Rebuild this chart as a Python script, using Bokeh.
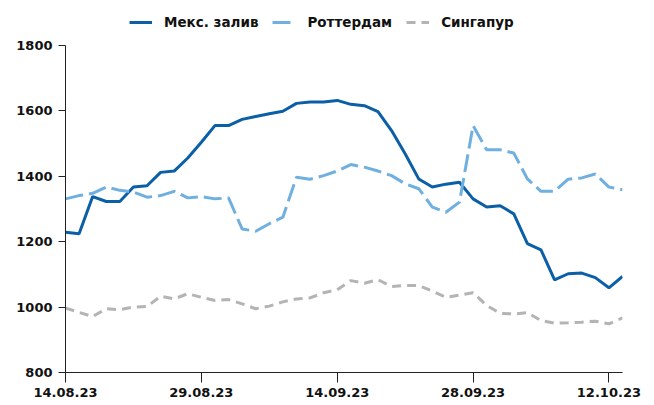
from bokeh.plotting import figure
from bokeh.models import FixedTicker, Range1d, Legend, LegendItem
from bokeh.embed import file_html
from bokeh.resources import INLINE

mex = [1229, 1224, 1338, 1323, 1323, 1367, 1371, 1412, 1416, 1456,
       1504, 1555, 1555, 1574, 1583, 1591, 1599, 1623, 1627, 1627,
       1632, 1620, 1616, 1598, 1540, 1469, 1392, 1367, 1376, 1382,
       1331, 1306, 1310, 1285, 1194, 1175, 1083, 1102, 1104, 1090,
       1059, 1094]
rot = [1331, 1341, 1348, 1367, 1357, 1352, 1336, 1341, 1354, 1334,
       1338, 1331, 1334, 1239, 1232, 1255, 1275, 1397, 1391, 1402,
       1416, 1436, 1428, 1416, 1402, 1377, 1362, 1306, 1290, 1321,
       1555, 1481, 1481, 1471, 1392, 1354, 1354, 1391, 1395, 1407,
       1367, 1359]
sin = [997, 984, 971, 995, 992, 1000, 1002, 1033, 1025, 1041,
       1030, 1020, 1023, 1010, 995, 1003, 1016, 1025, 1028, 1044,
       1053, 1081, 1073, 1084, 1063, 1066, 1066, 1049, 1030, 1037,
       1044, 1005, 981, 979, 983, 959, 951, 952, 954, 957,
       949, 967]
series_names = ["Мекс. залив", "Роттердам", "Сингапур"]
tick_labels = ["14.08.23", "29.08.23", "14.09.23", "28.09.23", "12.10.23"]
tick_idx = [0, 10, 20, 30, 40]
y_ticks = [800, 1000, 1200, 1400, 1600, 1800]

x = list(range(len(mex)))
FONT = "DejaVu Sans"

# frame extends above the 1800 tick so the legend can sit inside it
p = figure(width=654, height=405, output_backend="svg", toolbar_location=None,
           x_range=Range1d(0, len(mex) - 1), y_range=Range1d(800, 1922.3),
           min_border_left=65, min_border_right=32, min_border_top=5,
           min_border_bottom=33)
p.outline_line_color = None
p.grid.visible = False
p.background_fill_color = "white"

r1 = p.line(x, mex, line_color="#0a5fa6", line_width=3)
r2 = p.line(x, rot, line_color="#6fb0e0", line_width=3, line_dash="18 6")
r3 = p.line(x, sin, line_color="#b4b4b4", line_width=3, line_dash="9 6")

for ax in (p.xaxis[0], p.yaxis[0]):
    ax.axis_line_color = "#222222"
    ax.major_tick_line_color = "#222222"
    ax.major_tick_in = 0
    ax.minor_tick_line_color = None
    ax.major_label_text_font = FONT
    ax.major_label_text_font_style = "bold"
    ax.major_label_text_font_size = "13px"
    ax.major_label_text_color = "#111111"

p.xaxis[0].ticker = FixedTicker(ticks=tick_idx)
p.xaxis[0].major_label_overrides = {i: t for i, t in zip(tick_idx, tick_labels)}
p.xaxis[0].major_tick_out = 10
p.xaxis[0].major_label_standoff = 5
p.yaxis[0].ticker = FixedTicker(ticks=y_ticks)
p.yaxis[0].bounds = (800, 1800)
p.yaxis[0].major_tick_out = 7
p.yaxis[0].major_label_standoff = 6

legend = Legend(items=[LegendItem(label=series_names[0], renderers=[r1]),
                       LegendItem(label=series_names[1], renderers=[r2]),
                       LegendItem(label=series_names[2], renderers=[r3])],
                orientation="horizontal", location=(64, 340),
                border_line_color=None, background_fill_alpha=0,
                label_text_font=FONT, label_text_font_style="bold",
                label_text_font_size="13.5px", label_text_color="#111111",
                glyph_width=23, label_standoff=12, spacing=14,
                padding=2, margin=0)
p.add_layout(legend, "center")

open("out.html", "w").write(file_html(p, INLINE))
